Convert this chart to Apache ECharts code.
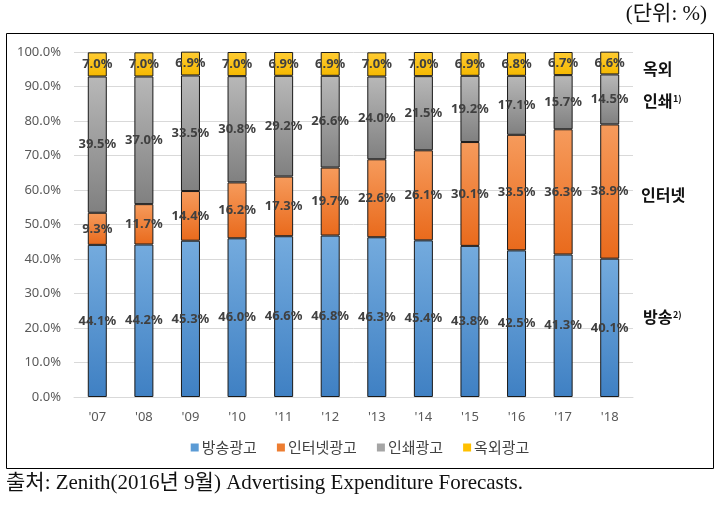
<!DOCTYPE html>
<html><head><meta charset="utf-8">
<script src="https://cdn.jsdelivr.net/npm/echarts@6/dist/echarts.min.js"></script>
<style>html,body{margin:0;padding:0;background:#fff}#c{width:720px;height:507px}</style>
</head><body><div id="c"></div>
<script>
const categories = ["'07","'08","'09","'10","'11","'12","'13","'14","'15","'16","'17","'18"];
const seriesNames = ["방송광고","인터넷광고","인쇄광고","옥외광고"];
const broadcast = [44.1,44.2,45.3,46.0,46.6,46.8,46.3,45.4,43.8,42.5,41.3,40.1];
const internet  = [9.3,11.7,14.4,16.2,17.3,19.7,22.6,26.1,30.1,33.5,36.3,38.9];
const print     = [39.5,37.0,33.5,30.8,29.2,26.6,24.0,21.5,19.2,17.1,15.7,14.5];
const outdoor   = [7.0,7.0,6.9,7.0,6.9,6.9,7.0,7.0,6.9,6.8,6.7,6.6];
const yTicks = [0,10,20,30,40,50,60,70,80,90,100];

const chart = echarts.init(document.getElementById('c'));
const grad = (a,b)=>new echarts.graphic.LinearGradient(0,0,0,1,[{offset:0,color:a},{offset:1,color:b}]);
const fills = [grad('#74abde','#3f80c3'), grad('#f69b5c','#e96a1c'), grad('#b8b8b8','#808080'), grad('#ffcc33','#f5b800')];
const legendColors = ['#5b9bd5','#ed7d31','#a5a5a5','#ffc000'];
const dataArr = [broadcast, internet, print, outdoor];
const series = dataArr.map((d,i)=>({
  name: seriesNames[i], type:'bar', stack:'s', barWidth:19,
  data: d,
  itemStyle:{color:fills[i], borderColor:'#1a1a1a', borderWidth:1},
  label:{show:true, position:'inside', formatter:p=>p.value.toFixed(1)+'%',
    color:'#404040', fontWeight:'bold', fontSize:13, fontFamily:'Noto Sans, sans-serif'}
}));
chart.setOption({
  animation:false,
  color: legendColors,
  grid:{left:74, right:87, top:52, bottom:110},
  xAxis:{type:'category', data:categories,
    axisLine:{show:true, lineStyle:{color:'#d9d9d9'}}, axisTick:{show:false},
    axisLabel:{color:'#595959', fontSize:13, fontFamily:'Noto Sans, sans-serif', margin:14}},
  yAxis:{type:'value', min:0, max:100, interval:10,
    axisLine:{show:false}, axisTick:{show:false},
    splitLine:{lineStyle:{color:'#d9d9d9'}},
    axisLabel:{color:'#595959', fontSize:13, fontFamily:'Noto Sans, sans-serif', margin:13,
      formatter:v=>v.toFixed(1)+'%'}},
  legend:{top:435, left:'center', itemWidth:8, itemHeight:8, itemGap:20, icon:'rect',
    itemStyle:{borderWidth:0},
    textStyle:{color:'#404040', fontSize:15, fontFamily:'Noto Sans CJK KR, sans-serif', padding:[0,0,0,-2]},
    data: seriesNames.map((n,i)=>({name:n, itemStyle:{color:legendColors[i], borderWidth:0}}))},
  series: series,
  graphic:[
    {type:'rect', shape:{x:6.5,y:33.5,width:707,height:435}, style:{fill:'none', stroke:'#000', lineWidth:1}, silent:true, z:-1},
    {type:'text', right:13, top:4, style:{text:'(단위: %)', fill:'#111', font:'21px "Liberation Serif", "Noto Sans CJK KR", serif'}},
    {type:'text', left:6, top:473, style:{text:'출처: Zenith(2016년 9월) Advertising Expenditure Forecasts.', fill:'#111', font:'21px "Liberation Serif", "Noto Sans CJK KR", serif'}},
    {type:'text', left:643, top:61, style:{text:'옥외', fill:'#111', font:'bold 16px "Noto Sans CJK KR", sans-serif'}},
    {type:'text', left:643, top:93, style:{text:'인쇄', fill:'#111', font:'bold 16px "Noto Sans CJK KR", sans-serif'}},
    {type:'text', left:673, top:94, style:{text:'1)', fill:'#111', font:'bold 9px "Noto Sans CJK KR", sans-serif'}},
    {type:'text', left:641, top:187, style:{text:'인터넷', fill:'#111', font:'bold 16px "Noto Sans CJK KR", sans-serif'}},
    {type:'text', left:643, top:309, style:{text:'방송', fill:'#111', font:'bold 16px "Noto Sans CJK KR", sans-serif'}},
    {type:'text', left:673, top:310, style:{text:'2)', fill:'#111', font:'bold 9px "Noto Sans CJK KR", sans-serif'}}
  ]
});
</script></body></html>
